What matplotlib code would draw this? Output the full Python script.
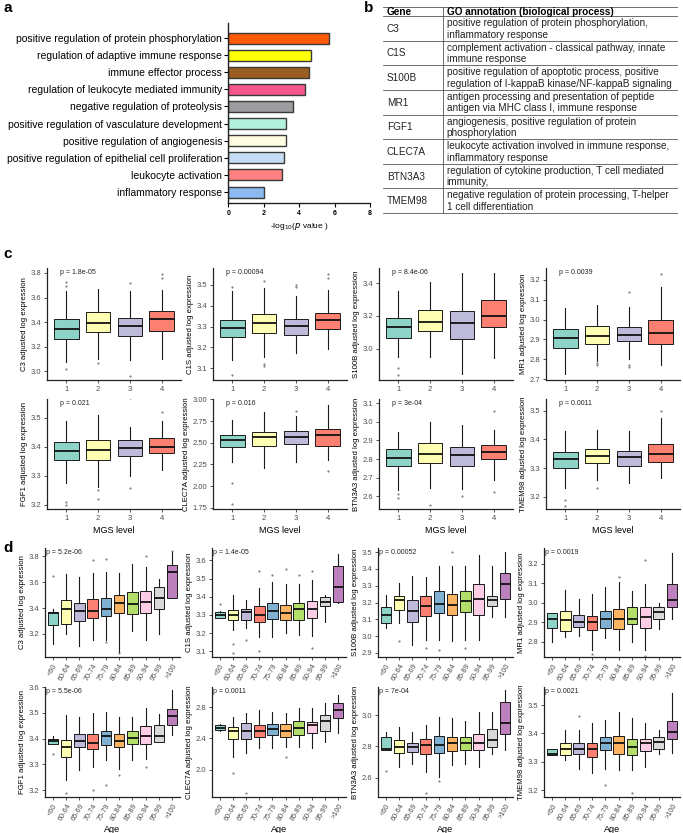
import matplotlib
matplotlib.use("Agg")
import matplotlib.pyplot as plt
import numpy as np

plt.rcParams['font.family'] = ['Liberation Sans', 'DejaVu Sans']

# ---------------- Panel a data ----------------
go_terms = ["positive regulation of protein phosphorylation",
            "regulation of adaptive immune response",
            "immune effector process",
            "regulation of leukocyte mediated immunity",
            "negative regulation of proteolysis",
            "positive regulation of vasculature development",
            "positive regulation of angiogenesis",
            "positive regulation of epithelial cell proliferation",
            "leukocyte activation",
            "inflammatory response"]
go_logp = [5.67, 4.69, 4.55, 4.33, 3.65, 3.28, 3.28, 3.13, 3.03, 2.02]
go_colors = ["#FF5A0A", "#FFFF0A", "#9A5E22", "#F5568C", "#9C9C9E",
             "#B2F2DC", "#FFFDE0", "#C6DDF6", "#FF8080", "#8CB9F0"]
go_xticks = [0, 2, 4, 6, 8]

# ---------------- Panel b data ----------------
tbl_genes = ["C3", "C1S", "S100B", "MR1", "FGF1", "CLEC7A", "BTN3A3", "TMEM98"]
tbl_annot = ["positive regulation of protein phosphorylation,\ninflammatory response",
             "complement activation - classical pathway, innate\nimmune response",
             "positive regulation of apoptotic process, positive\nregulation of I-kappaB kinase/NF-kappaB signaling",
             "antigen processing and presentation of peptide\nantigen via MHC class I, immune response",
             "angiogenesis, positive regulation of protein\nphosphorylation",
             "leukocyte activation involved in immune response,\ninflammatory response",
             "regulation of cytokine production, T cell mediated\nimmunity,",
             "negative regulation of protein processing, T-helper\n1 cell differentiation"]

# ---------------- Panel c data (whislo, q1, median, q3, whishi) ----------------
mgs_levels = ["1", "2", "3", "4"]
C3_mgs = [[3.08, 3.265, 3.341, 3.426, 3.65], [3.10, 3.32, 3.396, 3.48, 3.67],
          [3.09, 3.284, 3.368, 3.437, 3.65], [3.10, 3.33, 3.426, 3.49, 3.66]]
C1S_mgs = [[3.14, 3.252, 3.294, 3.332, 3.468], [3.153, 3.268, 3.316, 3.358, 3.484],
           [3.172, 3.258, 3.303, 3.337, 3.447], [3.194, 3.287, 3.33, 3.364, 3.476]]
S100B_mgs = [[2.948, 3.064, 3.134, 3.186, 3.35], [2.948, 3.109, 3.165, 3.237, 3.41],
             [2.843, 3.06, 3.155, 3.227, 3.464], [2.942, 3.132, 3.198, 3.297, 3.464]]
MR1_mgs = [[2.724, 2.857, 2.905, 2.951, 3.058], [2.79, 2.879, 2.915, 2.965, 3.074],
           [2.80, 2.891, 2.92, 2.961, 3.062], [2.77, 2.879, 2.93, 2.997, 3.164]]
FGF1_mgs = [[3.274, 3.356, 3.385, 3.417, 3.49], [3.262, 3.356, 3.39, 3.425, 3.51],
            [3.30, 3.369, 3.397, 3.425, 3.47], [3.322, 3.38, 3.40, 3.429, 3.49]]
CLEC7A_mgs = [[2.28, 2.454, 2.531, 2.592, 2.76], [2.21, 2.462, 2.56, 2.627, 2.857],
              [2.28, 2.485, 2.56, 2.635, 2.81], [2.30, 2.466, 2.589, 2.654, 2.935]]
BTN3A3_mgs = [[2.632, 2.762, 2.807, 2.852, 2.948], [2.642, 2.78, 2.827, 2.888, 3.0],
              [2.636, 2.764, 2.822, 2.866, 2.984], [2.686, 2.798, 2.836, 2.876, 2.957]]
TMEM98_mgs = [[3.23, 3.30, 3.331, 3.358, 3.428], [3.259, 3.317, 3.343, 3.366, 3.433],
              [3.248, 3.309, 3.338, 3.361, 3.43], [3.265, 3.32, 3.349, 3.385, 3.474]]

# points outside whiskers (panel c)
C3_mgs_out = [[3.02, 3.73, 3.69], [3.07], [2.96, 3.72], [3.79, 3.76]]
C1S_mgs_out = [[3.07, 3.49], [3.11, 3.12, 3.52], [3.50, 3.49], [3.55, 3.53]]
S100B_mgs_out = [[2.88, 2.84], [], [], []]
MR1_mgs_out = [[], [2.77, 2.78], [3.14, 2.77, 2.76], [3.23]]
FGF1_mgs_out = [[3.20, 3.21], [3.22, 3.25], [3.26, 3.57], [3.52]]
CLEC7A_mgs_out = [[2.04, 1.79], [], [2.86], [2.17]]
BTN3A3_mgs_out = [[2.59, 2.61], [2.55], [2.60], [2.62, 3.06]]
TMEM98_mgs_out = [[3.17, 3.19], [3.23], [], [3.50]]

p_mgs = ["p = 1.8e-05", "p = 0.00094", "p = 8.4e-06", "p = 0.0039",
         "p = 0.021", "p = 0.016", "p = 3e-04", "p = 0.0011"]

# ---------------- Panel d data ----------------
age_groups = ["<60", "60-64", "65-69", "70-74", "75-79", "80-84", "85-89", "90-94", "95-99", ">100"]
C3_age = [[3.12, 3.27, 3.36, 3.37, 3.39], [3.20, 3.28, 3.39, 3.46, 3.66], [3.11, 3.30, 3.38, 3.44, 3.64],
          [3.15, 3.32, 3.38, 3.47, 3.67], [3.15, 3.34, 3.39, 3.48, 3.68], [3.06, 3.36, 3.44, 3.50, 3.67],
          [3.22, 3.35, 3.43, 3.52, 3.74], [3.15, 3.36, 3.45, 3.53, 3.72], [3.20, 3.39, 3.48, 3.56, 3.62],
          [3.48, 3.48, 3.68, 3.73, 3.83]]
C1S_age = [[3.285, 3.286, 3.30, 3.316, 3.32], [3.22, 3.27, 3.30, 3.325, 3.41], [3.23, 3.275, 3.315, 3.334, 3.38],
           [3.18, 3.26, 3.30, 3.347, 3.45], [3.18, 3.277, 3.32, 3.365, 3.48], [3.20, 3.27, 3.31, 3.356, 3.47],
           [3.19, 3.275, 3.334, 3.367, 3.47], [3.185, 3.284, 3.334, 3.374, 3.49], [3.26, 3.347, 3.37, 3.397, 3.41],
           [3.365, 3.37, 3.455, 3.568, 3.635]]
S100B_age = [[3.05, 3.08, 3.124, 3.171, 3.247], [3.078, 3.157, 3.213, 3.237, 3.316], [2.95, 3.082, 3.151, 3.213, 3.359],
             [2.98, 3.118, 3.177, 3.237, 3.351], [2.98, 3.138, 3.193, 3.266, 3.419], [2.97, 3.128, 3.187, 3.252, 3.419],
             [2.975, 3.142, 3.207, 3.266, 3.415], [2.98, 3.124, 3.221, 3.31, 3.484], [3.114, 3.177, 3.217, 3.241, 3.419],
             [3.114, 3.221, 3.31, 3.375, 3.50]]
MR1_age = [[2.80, 2.869, 2.916, 2.948, 2.948], [2.827, 2.857, 2.911, 2.958, 3.066], [2.83, 2.874, 2.903, 2.936, 3.02],
           [2.76, 2.86, 2.903, 2.931, 3.045], [2.818, 2.869, 2.916, 2.956, 3.079], [2.76, 2.864, 2.916, 2.97, 3.104],
           [2.80, 2.891, 2.919, 2.978, 3.062], [2.76, 2.869, 2.928, 2.978, 3.096], [2.864, 2.916, 2.953, 2.978, 2.998],
           [2.919, 2.978, 3.015, 3.096, 3.255]]
FGF1_age = [[3.38, 3.38, 3.391, 3.40, 3.41], [3.238, 3.329, 3.368, 3.396, 3.491], [3.277, 3.368, 3.39, 3.419, 3.484],
            [3.29, 3.361, 3.383, 3.419, 3.50], [3.316, 3.374, 3.409, 3.43, 3.504], [3.283, 3.368, 3.391, 3.417, 3.482],
            [3.316, 3.38, 3.403, 3.43, 3.484], [3.322, 3.377, 3.409, 3.448, 3.517], [3.387, 3.387, 3.409, 3.452, 3.497],
            [3.413, 3.452, 3.487, 3.513, 3.588]]
CLEC7A_age = [[2.50, 2.508, 2.538, 2.572, 2.58], [2.163, 2.391, 2.499, 2.55, 2.68], [2.219, 2.391, 2.495, 2.602, 2.723],
              [2.271, 2.422, 2.495, 2.572, 2.766], [2.271, 2.443, 2.516, 2.585, 2.744], [2.292, 2.422, 2.495, 2.585, 2.723],
              [2.292, 2.443, 2.538, 2.628, 2.787], [2.271, 2.465, 2.572, 2.615, 2.787], [2.357, 2.499, 2.628, 2.701, 2.86],
              [2.465, 2.658, 2.766, 2.86, 2.96]]
BTN3A3_age = [[2.775, 2.775, 2.786, 2.861, 2.893], [2.668, 2.758, 2.797, 2.844, 2.925], [2.69, 2.765, 2.797, 2.822, 2.893],
              [2.636, 2.754, 2.812, 2.85, 2.936], [2.604, 2.758, 2.812, 2.865, 2.989], [2.679, 2.771, 2.822, 2.861, 2.979],
              [2.69, 2.78, 2.822, 2.861, 2.964], [2.668, 2.78, 2.822, 2.882, 3.021], [2.754, 2.797, 2.84, 2.914, 3.021],
              [2.78, 2.882, 2.951, 3.086, 3.16]]
TMEM98_age = [[3.324, 3.324, 3.329, 3.344, 3.347], [3.306, 3.324, 3.344, 3.367, 3.414], [3.276, 3.326, 3.347, 3.367, 3.412],
              [3.259, 3.318, 3.344, 3.365, 3.438], [3.276, 3.341, 3.365, 3.388, 3.449], [3.271, 3.329, 3.365, 3.391, 3.476],
              [3.271, 3.324, 3.353, 3.382, 3.453], [3.282, 3.339, 3.365, 3.382, 3.438], [3.329, 3.345, 3.371, 3.386, 3.414],
              [3.332, 3.382, 3.406, 3.445, 3.542]]

C3_age_out = [[3.65], [], [], [3.77], [3.78, 3.14], [3.05], [], [3.80], [], [3.84]]
C1S_age_out = [[3.36], [3.09, 3.14], [3.16], [3.10, 3.54], [3.52], [3.55], [3.52], [3.12, 3.54], [], [3.68]]
S100B_age_out = [[], [2.97], [], [2.93], [2.92], [3.50], [2.93], [], [], []]
MR1_age_out = [[], [], [], [2.74], [], [3.13], [], [3.22, 2.73], [], []]
FGF1_age_out = [[3.34], [3.19], [], [3.20], [3.22], [3.26], [], [3.29], [], []]
CLEC7A_age_out = [[], [1.95], [1.70], [], [], [2.16], [], [], [], []]
BTN3A3_age_out = [[2.64], [], [], [2.50], [2.58], [], [], [], [], []]
TMEM98_age_out = [[], [], [3.46], [], [3.22], [], [3.19], [], [], []]

p_age = ["p = 5.2e-06", "p = 1.4e-05", "p = 0.00052", "p = 0.0019",
         "p = 5.5e-06", "p = 0.0011", "p = 7e-04", "p = 0.0021"]

set3 = ["#8DD3C7", "#FFFFB3", "#BEBADA", "#FB8072", "#80B1D3",
        "#FDB462", "#B3DE69", "#FCCDE5", "#D9D9D9", "#BC80BD"]

W, H = 683, 833
fig = plt.figure(figsize=(W / 100, H / 100), dpi=100)


def px_axes(l, t, r, b):
    return fig.add_axes([l / W, 1 - b / H, (r - l) / W, (b - t) / H])


# overlay for letters and table
ov = fig.add_axes([0, 0, 1, 1], zorder=-1)
ov.set_xlim(0, W)
ov.set_ylim(H, 0)
ov.axis('off')

for lt, (x, y) in zip("abcd", [(3, 8), (364, 8), (3, 254), (3, 548)]):
    ov.text(x, y, lt, fontsize=11, fontweight='bold', va='center', ha='left')

# ---------------- Panel a ----------------
axa = px_axes(228.3, 23, 370, 203)
ypos = np.arange(len(go_terms))
axa.barh(ypos, go_logp, height=0.64, color=go_colors, edgecolor='#3a3a3a', linewidth=1.0)
axa.set_ylim(len(go_terms) - 1 + 0.64, -0.88)
axa.set_xlim(0, 8)
axa.set_yticks(ypos)
axa.set_yticklabels(go_terms, fontsize=7.5)
axa.set_xticks(go_xticks)
axa.set_xticklabels([str(v) for v in go_xticks], fontsize=5, fontweight='bold')
axa.spines['top'].set_visible(False)
axa.spines['right'].set_visible(False)
for s in ['left', 'bottom']:
    axa.spines[s].set_linewidth(1.0)
    axa.spines[s].set_color('#222222')
axa.tick_params(axis='y', length=3, width=0.8, pad=1.5)
axa.tick_params(axis='x', length=3, width=0.8, pad=2)
axa.set_xlabel('-log$_{10}$($p$ value )', fontsize=6, labelpad=3)

# ---------------- Panel b (table) ----------------
t_left, t_right, t_top, t_head, t_bot = 383.3, 677, 6.7, 16.0, 213.0
row_h = (t_bot - t_head) / len(tbl_genes)
div_x = 443.3
lc = '#555555'
ov.plot([t_left, t_right], [t_top, t_top], color=lc, lw=0.6)
ov.plot([t_left, t_right], [t_head, t_head], color=lc, lw=0.6)
ov.plot([div_x, div_x], [t_top, t_bot], color=lc, lw=0.6)
ov.text(t_left + 3.5, (t_top + t_head) / 2 + 0.5, "Gene", fontsize=7.2, fontweight='bold', va='center')
ov.text(div_x + 3.5, (t_top + t_head) / 2 + 0.5, "GO annotation (biological process)", fontsize=7.2,
        fontweight='bold', va='center')
for i, (g, a) in enumerate(zip(tbl_genes, tbl_annot)):
    y0 = t_head + i * row_h
    y1 = y0 + row_h
    ov.plot([t_left, t_right], [y1, y1], color=lc, lw=0.6)
    ov.text(t_left + 3.5, (y0 + y1) / 2 + 0.5, g, fontsize=7.2, va='center', color='#222222')
    ov.text(div_x + 3.5, (y0 + y1) / 2 + 0.5, a, fontsize=7.2, va='center', color='#222222', linespacing=1.2)


# ---------------- box panels ----------------
def box_panel(ax, stats, outs, ylim, yticks, yfmt, ylabel, ptxt, labels, width, ptx, rot):
    n = len(stats)
    st = []
    for s, o in zip(stats, outs):
        st.append(dict(whislo=s[0], q1=s[1], med=s[2], q3=s[3], whishi=s[4], fliers=o))
    bp = ax.bxp(st, positions=np.arange(1, n + 1), widths=width, patch_artist=True,
                showcaps=False, showfliers=True,
                boxprops=dict(linewidth=0.7, edgecolor='#1a1a1a'),
                medianprops=dict(color='#111111', linewidth=1.3),
                whiskerprops=dict(color='#1a1a1a', linewidth=0.8),
                flierprops=dict(marker='o', markersize=1.6, markerfacecolor='#666666',
                                markeredgecolor='none', alpha=0.8))
    for patch, c in zip(bp['boxes'], set3):
        patch.set_facecolor(c)
    ax.set_xlim(0.4, n + 0.6)
    ax.set_ylim(*ylim)
    ax.set_yticks(yticks)
    ax.set_yticklabels([yfmt.format(v) for v in yticks])
    ax.set_xticks(np.arange(1, n + 1))
    if rot:
        ax.set_xticklabels(labels, rotation=60, ha='right', va='top', rotation_mode='anchor', fontsize=5.2)
    else:
        ax.set_xticklabels(labels, fontsize=5.5)
    ax.spines['top'].set_visible(False)
    ax.spines['right'].set_visible(False)
    for s in ['left', 'bottom']:
        ax.spines[s].set_linewidth(0.9)
        ax.spines[s].set_color('#222222')
    ax.tick_params(axis='both', length=2.5, width=0.6, color='#333333', labelcolor='#4D4D4D', pad=1.5)
    ax.tick_params(axis='y', labelsize=5.5)
    ax.set_ylabel(ylabel, fontsize=5.6, labelpad=2)
    ax.text(ptx, 0.995, ptxt, transform=ax.transAxes, fontsize=5, va='top', ha='left', color='#222222')


cols_c = [(47, 181), (213, 347), (379, 513), (546, 680)]
rows_c = [(268, 380), (399, 509)]
cols_d = [(45, 180), (212, 346), (378, 513), (544, 680)]
rows_d = [(548, 657), (687, 797)]

genes = ["C3", "C1S", "S100B", "MR1", "FGF1", "CLEC7A", "BTN3A3", "TMEM98"]
mgs_stats = [C3_mgs, C1S_mgs, S100B_mgs, MR1_mgs, FGF1_mgs, CLEC7A_mgs, BTN3A3_mgs, TMEM98_mgs]
mgs_outs = [C3_mgs_out, C1S_mgs_out, S100B_mgs_out, MR1_mgs_out, FGF1_mgs_out, CLEC7A_mgs_out,
            BTN3A3_mgs_out, TMEM98_mgs_out]
mgs_ylims = [(2.93, 3.84), (3.044, 3.58), (2.808, 3.493), (2.695, 3.26),
             (3.186, 3.565), (1.735, 3.004), (2.53, 3.124), (3.158, 3.541)]
mgs_yticks = [[3.0, 3.2, 3.4, 3.6, 3.8], [3.1, 3.2, 3.3, 3.4, 3.5], [3.0, 3.2, 3.4],
              [2.7, 2.8, 2.9, 3.0, 3.1, 3.2], [3.2, 3.3, 3.4, 3.5], [1.75, 2.0, 2.25, 2.5, 2.75, 3.0],
              [2.6, 2.7, 2.8, 2.9, 3.0, 3.1], [3.2, 3.3, 3.4, 3.5]]
mgs_fmt = ["{:.1f}"] * 5 + ["{:.2f}"] + ["{:.1f}"] * 2

for k in range(8):
    r, c = divmod(k, 4)
    ax = px_axes(cols_c[c][0], rows_c[r][0], cols_c[c][1], rows_c[r][1])
    box_panel(ax, mgs_stats[k], mgs_outs[k], mgs_ylims[k], mgs_yticks[k], mgs_fmt[k],
              genes[k] + " adjusted log expression", p_mgs[k], mgs_levels, 0.78, 0.1, False)
    if r == 1:
        ax.set_xlabel("MGS level", fontsize=6.5, labelpad=3)

age_stats = [C3_age, C1S_age, S100B_age, MR1_age, FGF1_age, CLEC7A_age, BTN3A3_age, TMEM98_age]
age_outs = [C3_age_out, C1S_age_out, S100B_age_out, MR1_age_out, FGF1_age_out, CLEC7A_age_out,
            BTN3A3_age_out, TMEM98_age_out]
age_ylims = [(3.022, 3.863), (3.069, 3.668), (2.876, 3.524), (2.723, 3.28),
             (3.173, 3.60), (1.647, 3.062), (2.476, 3.18), (3.176, 3.564)]
age_yticks = [[3.2, 3.4, 3.6, 3.8], [3.1, 3.2, 3.3, 3.4, 3.5, 3.6], [2.9, 3.0, 3.1, 3.2, 3.3, 3.4, 3.5],
              [2.8, 2.9, 3.0, 3.1, 3.2], [3.2, 3.3, 3.4, 3.5, 3.6], [2.0, 2.4, 2.8],
              [2.6, 2.8, 3.0], [3.2, 3.3, 3.4, 3.5]]

for k in range(8):
    r, c = divmod(k, 4)
    ax = px_axes(cols_d[c][0], rows_d[r][0], cols_d[c][1], rows_d[r][1])
    box_panel(ax, age_stats[k], age_outs[k], age_ylims[k], age_yticks[k], "{:.1f}",
              genes[k] + " adjusted log expression", p_age[k], age_groups, 0.8, 0.01, True)
    if r == 1:
        ax.set_xlabel("Age", fontsize=6.5, labelpad=2)

fig.savefig("out.png", dpi=100)
